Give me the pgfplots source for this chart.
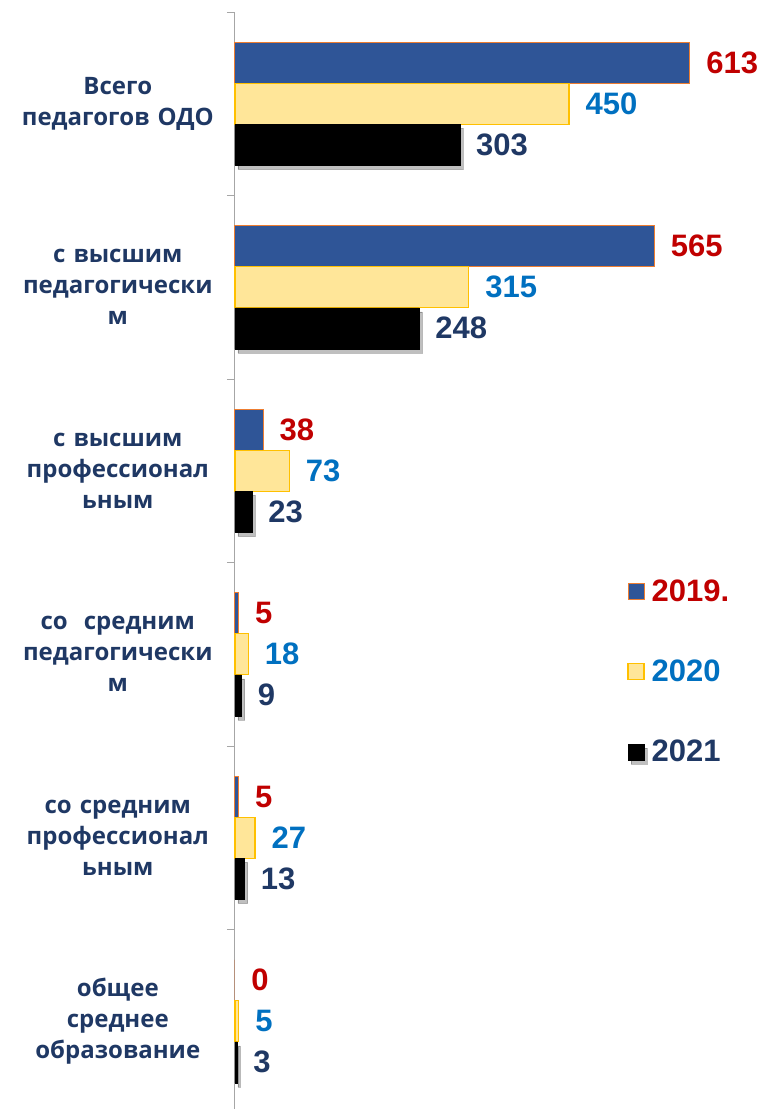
\documentclass[border=0pt]{standalone}
\usepackage{pgfplots}
\pgfplotsset{compat=1.18}
\usepackage{fontspec}
\setmainfont{Open Sans}
\newfontfamily\numfont{Liberation Sans}
\usetikzlibrary{shadows}
\definecolor{c19}{HTML}{2F5597}
\definecolor{o19}{HTML}{ED7D31}
\definecolor{c20}{HTML}{FFE699}
\definecolor{o20}{HTML}{FFC000}
\definecolor{lab19}{HTML}{C00000}
\definecolor{lab20}{HTML}{0070C0}
\definecolor{navy}{HTML}{1F3864}
\definecolor{axgray}{HTML}{A6A6A6}
\begin{document}
\begin{tikzpicture}
\path[use as bounding box] (-235bp,0) rectangle (531bp,1109bp);
\begin{axis}[
  at={(0,0)}, anchor=south west,
  scale only axis, width=531bp, height=1097bp,
  xmin=0, xmax=715.4, ymin=-0.478, ymax=5.5,
  xbar, bar width=41bp,
  clip=false,
  /pgf/number format/assume math mode=true,
  axis x line=none, axis y line*=left,
  y axis line style={axgray, line width=1bp},
  ytick={0,...,5},
  yticklabels={{общее\\среднее\\образование},{со средним\\профессионал\\ьным},{со\ \ средним\\педагогически\\м},{с высшим\\профессионал\\ьным},{с высшим\\педагогически\\м},{Всего\\педагогов ОДО}},
  major tick length=0pt,
  tick pos=left,
  yticklabel style={text width=214bp, align=center, font=\bfseries\fontsize{24bp}{31bp}\selectfont, text=navy, inner sep=0pt, xshift=-10bp},
  extra y ticks={0.5,1.5,2.5,3.5,4.5,5.5},
  extra y tick labels={},
  extra y tick style={major tick length=8bp, tick align=outside, tick style={axgray, line width=1bp}},
  nodes near coords,
  every node near coord/.append style={anchor=west, inner sep=0pt, xshift=16bp, font=\numfont\bfseries\fontsize{31bp}{31bp}\selectfont},
  legend style={at={(axis description cs:0.733,0.486)}, anchor=north west, draw=none, fill=none, row sep=53bp, font=\numfont\bfseries\fontsize{31bp}{31bp}\selectfont},
  legend cell align=left,
  legend image code/.code={\draw[#1] (0bp,-8bp) rectangle (16bp,8bp);},
  /tikz/every odd column/.append style={column sep=5bp},
]
\addplot[fill=c19, draw=o19, line width=1bp, bar shift=41bp, every node near coord/.append style={text=lab19}]
  coordinates {(613,5) (565,4) (38,3) (5,2) (5,1) (0,0)};
\addlegendentry{\textcolor{lab19}{2019.}}
\addplot[fill=c20, draw=o20, line width=1.2bp, bar shift=0bp, every node near coord/.append style={text=lab20}]
  coordinates {(450,5) (315,4) (73,3) (18,2) (27,1) (5,0)};
\addlegendentry{\textcolor{lab20}{2020}}
\addplot[fill=black, draw=black, line width=0.5bp, bar shift=-41bp, drop shadow={shadow xshift=3bp, shadow yshift=-4bp, opacity=0.25, fill=black}, every node near coord/.append style={text=navy}]
  coordinates {(303,5) (248,4) (23,3) (9,2) (13,1) (3,0)};
\addlegendentry{\textcolor{navy}{2021}}
\end{axis}
\end{tikzpicture}
\end{document}
